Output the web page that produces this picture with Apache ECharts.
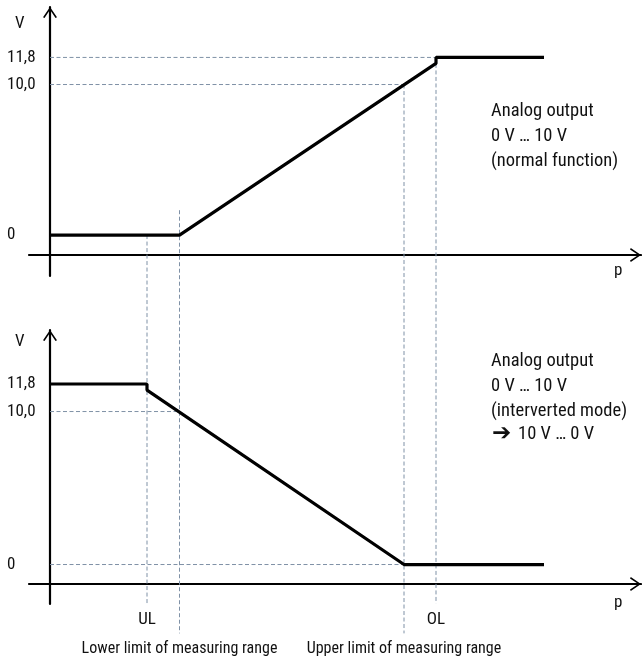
<!DOCTYPE html>
<html><head><meta charset="utf-8">
<script src="https://cdn.jsdelivr.net/npm/echarts@6/dist/echarts.min.js"></script>
<style>html,body{margin:0;padding:0;background:#fff}#c{width:642px;height:658px}</style>
</head><body><div id="c"></div>
<script>
// pressure positions (arbitrary units, origin on the V axis)
const normalP = [0, 129.5, 386, 386, 494];
const normalV = [0, 0, 11.4, 11.8, 11.8];
const invertedP = [0, 97, 97, 354, 494];
const invertedV = [11.8, 11.8, 11.4, 0, 0];
const yTickValues = [0, 10, 11.8];
const yTickLabels = ['0', '10,0', '11,8'];
const xTickValues = [97, 386];
const xTickLabels = ['UL', 'OL'];
const limitValues = [129.5, 354];
const limitLabels = ['Lower limit of measuring range', 'Upper limit of measuring range'];
// horizontal guide lines: [V, p end]
const normalHGuides = [[11.8, 386], [10, 354]];
const invertedHGuides = [[10, 129.5], [0, 354]];
// vertical guide lines: [p, V start in normal chart, V end in inverted chart]
const vGuides = [[97, 0, -2.55], [129.5, 1.65, -4.5], [354, 10, -4.5], [386, 11.8, -2.55]];

const FONT = "'Roboto Condensed','DejaVu Sans Condensed',sans-serif";
const TXT = '#111';
const GUIDE = '#7f91a6';
const ARROW = 'path://M0,10.2 L7,0 L14,10.2 L12.5,11 L7,2.7 L1.5,11 Z';

const chart = echarts.init(document.getElementById('c'), null, {renderer: 'canvas'});

function axisLineStyle() {
  return {show: true, onZero: true, lineStyle: {color: '#000', width: 2.2},
    symbol: ['none', ARROW], symbolSize: [14, 11], symbolOffset: [0, -5.5]};
}
function yLabel() {
  return {show: true, customValues: yTickValues, align: 'left', margin: 22,
    fontFamily: FONT, fontSize: 17, color: TXT,
    formatter: v => { const i = yTickValues.findIndex(t => Math.abs(t - v) < 1e-6); return i >= 0 ? yTickLabels[i] : ''; }};
}
function dashed(data, xi, yi) {
  return {type: 'line', xAxisIndex: xi, yAxisIndex: yi, data: data, showSymbol: false, silent: true,
    lineStyle: {color: GUIDE, width: 1, type: [4, 2.5]}, z: 1, clip: false, animation: false};
}

const series = [];
normalHGuides.forEach(g => series.push(dashed([[0, g[0]], [g[1], g[0]]], 0, 0)));
invertedHGuides.forEach(g => series.push(dashed([[0, g[0]], [g[1], g[0]]], 1, 1)));
series.push({type: 'line', xAxisIndex: 0, yAxisIndex: 0, data: normalP.map((p, i) => [p, normalV[i]]),
  showSymbol: false, lineStyle: {color: '#000', width: 3.2}, z: 5, animation: false});
series.push({type: 'line', xAxisIndex: 1, yAxisIndex: 1, data: invertedP.map((p, i) => [p, invertedV[i]]),
  showSymbol: false, lineStyle: {color: '#000', width: 3.2}, z: 5, animation: false});

const xCommon = {type: 'value', min: -21, max: 591, splitLine: {show: false}, axisTick: {show: false}};

chart.setOption({
  animation: false,
  backgroundColor: '#fff',
  grid: [
    {left: 29, right: 1, top: 7, height: 269, containLabel: false, outerBoundsMode: 'none'},
    {left: 29, right: 1, top: 330, height: 274, containLabel: false, outerBoundsMode: 'none'}
  ],
  xAxis: [
    Object.assign({}, xCommon, {gridIndex: 0, position: 'bottom', offset: -21,
      axisLine: Object.assign(axisLineStyle(), {onZero: false}), axisLabel: {show: false}}),
    Object.assign({}, xCommon, {gridIndex: 1, position: 'bottom', offset: -20,
      axisLine: Object.assign(axisLineStyle(), {onZero: false}),
      axisLabel: {show: true, customValues: xTickValues, margin: 27, fontFamily: FONT, fontSize: 17, color: TXT,
        formatter: v => { const i = xTickValues.indexOf(v); return i >= 0 ? xTickLabels[i] : ''; }}}),
    Object.assign({}, xCommon, {gridIndex: 1, position: 'bottom', offset: 0,
      axisLine: {show: false},
      axisLabel: {show: true, customValues: limitValues, margin: 37, fontFamily: FONT, fontSize: 16, color: TXT,
        formatter: v => { const i = limitValues.indexOf(v); return i >= 0 ? limitLabels[i] : ''; }}})
  ],
  yAxis: [
    {type: 'value', gridIndex: 0, min: -2.72, max: 15.15, splitLine: {show: false}, axisTick: {show: false},
      axisLine: axisLineStyle(), axisLabel: yLabel()},
    {type: 'value', gridIndex: 1, min: -2.58, max: 15.33, splitLine: {show: false}, axisTick: {show: false},
      axisLine: axisLineStyle(), axisLabel: yLabel()}
  ],
  graphic: [
    {type: 'text', left: 15, top: 15, style: {text: 'V', font: '17px ' + FONT, fill: TXT}},
    {type: 'text', left: 15, top: 333, style: {text: 'V', font: '17px ' + FONT, fill: TXT}},
    {type: 'text', left: 614, top: 262, style: {text: 'p', font: '17px ' + FONT, fill: TXT}},
    {type: 'text', left: 614, top: 594, style: {text: 'p', font: '17px ' + FONT, fill: TXT}},
    {type: 'text', left: 491, top: 99, style: {text: 'Analog output\n0 V … 10 V\n(normal function)', font: '18.5px ' + FONT, lineHeight: 25, fill: TXT}},
    {type: 'text', left: 491, top: 349, style: {text: 'Analog output\n0 V … 10 V\n(interverted mode)', font: '18.5px ' + FONT, lineHeight: 25, fill: TXT}},
    {type: 'text', left: 492, top: 423, style: {text: '➔', font: "bold 23px 'DejaVu Sans'", fill: TXT}},
    {type: 'text', left: 518, top: 425, style: {text: '10 V … 0 V', font: '18.5px ' + FONT, fill: TXT}}
  ],
  series: series
});

// vertical guides crossing both diagrams: start point taken from the upper chart's scale
const vSeries = vGuides.map(g => {
  const px = chart.convertToPixel({gridIndex: 0}, [g[0], g[1]]);
  const vTop = chart.convertFromPixel({gridIndex: 1}, px)[1];
  return dashed([[g[0], vTop], [g[0], g[2]]], 1, 1);
});
chart.setOption({series: series.concat(vSeries)});
</script></body></html>
